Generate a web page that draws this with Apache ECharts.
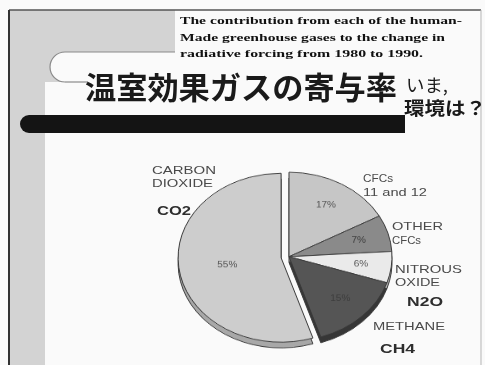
<!DOCTYPE html>
<html>
<head>
<meta charset="utf-8">
<script src="https://cdn.jsdelivr.net/npm/echarts@6/dist/echarts.min.js"></script>
<style>
  html, body { margin: 0; padding: 0; background: #fafafa; }
  #slide { position: absolute; left: 0; top: 0; width: 485px; height: 365px; }
  /* the pie is drawn in its own layer, flattened vertically to look tilted */
  #pie { position: absolute; left: 0; top: 0; width: 485px; height: 445px;
         transform: scaleY(0.82); transform-origin: 0 0; }
</style>
</head>
<body>
<div id="slide"></div>
<div id="pie"></div>
<script>
// Share of radiative forcing change, 1980-1990 (%)
const gases  = ['CFCs 11 and 12', 'OTHER CFCs', 'NITROUS OXIDE', 'METHANE', 'CARBON DIOXIDE'];
const shares = [17, 7, 6, 15, 55];
const formulas = ['', '', 'N2O', 'CH4', 'CO2'];
const gasLabelLines = [['CFCs', '11 and 12'], ['OTHER', 'CFCs'], ['NITROUS', 'OXIDE'], ['METHANE'], ['CARBON', 'DIOXIDE']];

const titleText = '温室効果ガスの寄与率';
const sideNotes = ['いま,', '環境は？'];
const captionLines = [
  'The contribution from each of the human-',
  'Made greenhouse gases to the change in',
  'radiative forcing from 1980 to 1990.'
];

const faceColors = ['#c6c6c6', '#8a8a8a', '#eaeaea', '#555555', '#cdcdcd'];
const rimColors  = ['#9a9a9a', '#6a6a6a', '#b0b0b0', '#363636', '#a8a8a8'];
const pctColors  = ['#555', '#3c3c3c', '#555', '#3e3e3e', '#555'];
const explodedIndex = 4;

// ---- helpers ----
const measureCtx = document.createElement('canvas').getContext('2d');
function stretchTo(text, font, width) {
  measureCtx.font = font;
  return width / measureCtx.measureText(text).width;
}
function textEl(text, x, y, font, fill, width) {
  return {
    type: 'text', x: x, y: y, z: 20,
    scaleX: width ? stretchTo(text, font, width) : 1,
    style: { text: text, font: font, fill: fill, align: 'left', verticalAlign: 'middle',
             textAlign: 'left', textVerticalAlign: 'middle' }
  };
}

// ---- slide background, title block and annotations ----
const slide = echarts.init(document.getElementById('slide'), null, { renderer: 'canvas' });
const gray = '#d3d3d3';
const bg = '#fafafa';
const SERIF_B = 'bold 11px "Liberation Serif", "DejaVu Serif", serif';
const LABEL_F = '11px "Liberation Sans", Arial, sans-serif';
const FORM_F  = 'bold 12px "Liberation Sans", Arial, sans-serif';

const graphics = [
  // grey side strip and top-left block
  { type: 'rect', shape: { x: 10, y: 10, width: 35, height: 355 }, style: { fill: gray }, z: 1 },
  { type: 'rect', shape: { x: 10, y: 10, width: 165, height: 42 }, style: { fill: gray }, z: 1 },
  { type: 'rect', shape: { x: 10, y: 52, width: 55, height: 30 }, style: { fill: gray }, z: 1 },
  // white tab with rounded left end
  { type: 'rect', shape: { x: 65, y: 52, width: 110, height: 30 }, style: { fill: bg }, z: 2 },
  { type: 'circle', shape: { cx: 65, cy: 67, r: 15 }, style: { fill: bg }, z: 2 },
  { type: 'arc', shape: { cx: 65, cy: 67, r: 15, startAngle: Math.PI / 2, endAngle: Math.PI * 1.5, clockwise: true },
    style: { fill: 'none', stroke: '#8a8a8a', lineWidth: 1.2 }, z: 3 },
  { type: 'line', shape: { x1: 65, y1: 52, x2: 175, y2: 52 }, style: { stroke: '#8a8a8a', lineWidth: 1.2 }, z: 3 },
  { type: 'line', shape: { x1: 65, y1: 82, x2: 88, y2: 82 }, style: { stroke: '#8a8a8a', lineWidth: 1.2 }, z: 3 },
  // frame
  { type: 'line', shape: { x1: 9, y1: 10, x2: 481, y2: 10 }, style: { stroke: '#555', lineWidth: 1.5 }, z: 4 },
  { type: 'line', shape: { x1: 9, y1: 10, x2: 9, y2: 365 }, style: { stroke: '#333', lineWidth: 2 }, z: 4 },
  { type: 'line', shape: { x1: 481, y1: 10, x2: 481, y2: 365 }, style: { stroke: '#b5b5b5', lineWidth: 1 }, z: 4 },
  // heavy black bar under the title
  { type: 'rect', shape: { x: 20, y: 115, width: 385, height: 18, r: [9, 0, 0, 9] }, style: { fill: '#141414' }, z: 5 },
  // title and side notes
  textEl(titleText, 85, 87, 'bold 31px "Noto Sans CJK JP", sans-serif', '#1a1a1a', 312),
  textEl(sideNotes[0], 406, 85, '18px "Noto Sans CJK JP", sans-serif', '#1a1a1a', 42),
  textEl(sideNotes[1], 404, 108, 'bold 18px "Noto Sans CJK JP", sans-serif', '#1a1a1a', 82)
];

// English caption, three lines
const captionRight = [462, 445, 423];
[21, 38, 54].forEach(function (y, i) {
  graphics.push(textEl(captionLines[i], 180, y, SERIF_B, '#111', captionRight[i] - 180));
});

// gas names beside the pie
const labelAnchors = [
  { x: 363, y: [179, 193], w: [30, 64] },
  { x: 392, y: [227, 241], w: [51, 29] },
  { x: 395, y: [270, 283], w: [67, 45] },
  { x: 373, y: [327],      w: [72] },
  { x: 152, y: [171, 184], w: [64, 61] }
];
const formulaAnchors = [null, null, { x: 407, y: 303, w: 36 }, { x: 380, y: 350, w: 35 }, { x: 157, y: 212, w: 34 }];
gasLabelLines.forEach(function (lines, i) {
  const a = labelAnchors[i];
  lines.forEach(function (ln, k) {
    graphics.push(textEl(ln, a.x, a.y[k], LABEL_F, '#4a4a4a', a.w[k]));
  });
  const f = formulaAnchors[i];
  if (f && formulas[i]) graphics.push(textEl(formulas[i], f.x, f.y, FORM_F, '#2e2e2e', f.w));
});

slide.setOption({ animation: false, graphic: { elements: graphics } });

// ---- the pie ----
const pie = echarts.init(document.getElementById('pie'), null, { renderer: 'canvas' });
const CX = 289, CY = 313, R = 103;

function sliceData(colors, labelFilter) {
  return shares.map(function (v, i) {
    return {
      value: v, name: gases[i], selected: i === explodedIndex,
      itemStyle: { color: colors[i] },
      label: { show: labelFilter(i), color: pctColors[i] }
    };
  });
}
const common = {
  type: 'pie', startAngle: 90, clockwise: true, silent: true,
  selectedMode: 'single', selectedOffset: 8, animation: false,
  labelLine: { show: false }, emphasis: { disabled: true }
};
const pctLabel = { position: 'inside', formatter: '{c}%', fontSize: 10,
                   fontFamily: 'Liberation Sans, Arial, sans-serif', color: '#555' };

pie.setOption({
  animation: false,
  series: [
    // side wall of the tilted pie
    Object.assign({}, common, {
      center: [CX, CY + 7], radius: R, z: 1,
      itemStyle: { borderColor: '#3a3a3a', borderWidth: 1 },
      label: { show: false },
      data: sliceData(rimColors, function () { return false; })
    }),
    // top face
    Object.assign({}, common, {
      center: [CX, CY], radius: R, z: 2,
      itemStyle: { borderColor: '#3a3a3a', borderWidth: 1 },
      label: pctLabel,
      data: sliceData(faceColors, function (i) { return i === explodedIndex; })
    }),
    // percentage labels for the small slices, set further out
    Object.assign({}, common, {
      center: [CX, CY], radius: [36, R], z: 3,
      itemStyle: { color: 'rgba(0,0,0,0)', borderWidth: 0 },
      label: pctLabel,
      data: sliceData(faceColors.map(function () { return 'rgba(0,0,0,0)'; }),
                      function (i) { return i !== explodedIndex; })
    })
  ]
});
</script>
</body>
</html>
